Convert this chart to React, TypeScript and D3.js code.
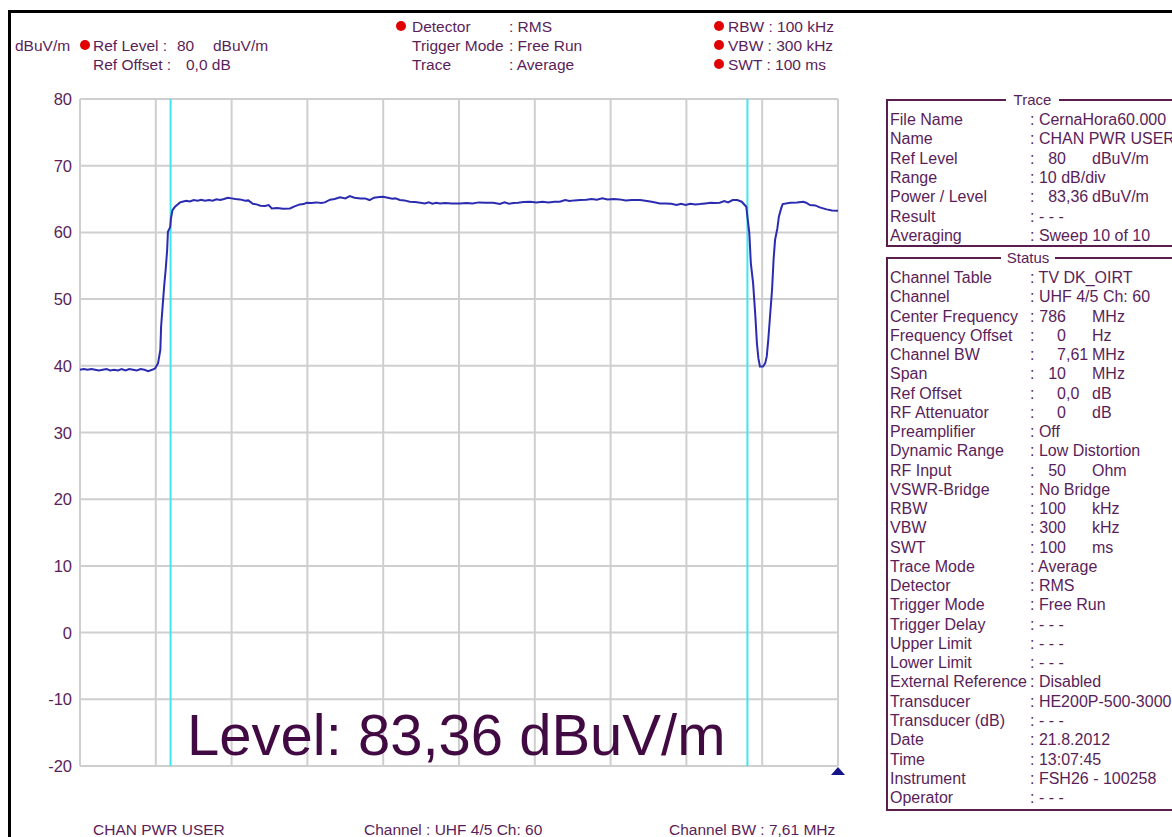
import React from 'react';
import * as d3 from 'd3';

// trace: frequency (MHz) / level (dBuV/m)
const traceFreq = [
  781.0, 781.05, 781.1, 781.15, 781.2, 781.25, 781.3, 781.35, 781.4, 781.45,
  781.5, 781.55, 781.6, 781.65, 781.7, 781.75, 781.8, 781.85, 781.9, 781.95,
  781.99, 782.03, 782.06, 782.07, 782.09, 782.11, 782.13, 782.15, 782.16, 782.19,
  782.2, 782.22, 782.25, 782.28, 782.32, 782.35, 782.4, 782.45, 782.5, 782.55,
  782.6, 782.65, 782.7, 782.75, 782.8, 782.85, 782.9, 782.95, 783.0, 783.05,
  783.11, 783.18, 783.22, 783.28, 783.33, 783.38, 783.44, 783.49, 783.53, 783.6,
  783.68, 783.77, 783.83, 783.9, 783.95, 783.99, 784.05, 784.12, 784.18, 784.23,
  784.3, 784.36, 784.43, 784.5, 784.56, 784.62, 784.7, 784.76, 784.82, 784.88,
  784.95, 785.0, 785.06, 785.12, 785.16, 785.22, 785.28, 785.35, 785.42, 785.49,
  785.55, 785.6, 785.65, 785.7, 785.75, 785.82, 785.9, 786.01, 786.1, 786.18,
  786.26, 786.35, 786.45, 786.54, 786.6, 786.66, 786.72, 786.78, 786.85, 786.94,
  787.02, 787.1, 787.18, 787.26, 787.33, 787.4, 787.46, 787.52, 787.6, 787.68,
  787.75, 787.82, 787.89, 787.96, 788.04, 788.12, 788.2, 788.28, 788.39, 788.48,
  788.56, 788.65, 788.72, 788.8, 788.87, 788.93, 788.99, 789.05, 789.12, 789.18,
  789.25, 789.32, 789.38, 789.44, 789.5, 789.55, 789.61, 789.67, 789.73, 789.79,
  789.81, 789.83, 789.85, 789.88, 789.91, 789.93, 789.95, 789.97, 790.01, 790.04,
  790.06, 790.08, 790.1, 790.13, 790.15, 790.17, 790.2, 790.22, 790.25, 790.27,
  790.37, 790.46, 790.54, 790.58, 790.63, 790.7, 790.76, 790.85, 790.92, 791.0,
];
const traceLevel = [
  39.4, 39.5, 39.4, 39.5, 39.4, 39.3, 39.4, 39.5, 39.3, 39.4,
  39.3, 39.5, 39.3, 39.5, 39.4, 39.3, 39.5, 39.4, 39.2, 39.4,
  39.6, 40.4, 42.4, 45.9, 48.9, 51.9, 54.4, 57.4, 60.1, 60.8,
  62.1, 63.35, 63.8, 64.1, 64.5, 64.6, 64.75, 64.65, 64.85, 64.75,
  64.9, 64.75, 64.85, 64.75, 64.95, 64.85, 65.0, 65.2, 65.1, 65.0,
  64.95, 64.75, 64.8, 64.3, 64.2, 64.0, 63.95, 64.1, 63.6, 63.65,
  63.55, 63.6, 63.9, 64.2, 64.25, 64.45, 64.4, 64.5, 64.4, 64.5,
  64.9, 65.0, 65.25, 65.1, 65.45, 65.2, 65.1, 65.1, 64.85, 65.2,
  65.3, 65.35, 65.2, 65.05, 65.1, 64.85, 64.8, 64.6, 64.55, 64.45,
  64.35, 64.5, 64.3, 64.45, 64.35, 64.4, 64.35, 64.35, 64.4, 64.35,
  64.5, 64.45, 64.45, 64.25, 64.5, 64.3, 64.4, 64.45, 64.55, 64.6,
  64.5, 64.6, 64.5, 64.6, 64.6, 64.85, 64.7, 64.8, 64.85, 64.9,
  65.0, 64.9, 65.1, 64.95, 65.0, 64.95, 64.8, 64.85, 64.85, 64.7,
  64.55, 64.35, 64.35, 64.3, 64.1, 64.3, 64.1, 64.3, 64.2, 64.25,
  64.35, 64.45, 64.4, 64.45, 64.7, 64.5, 64.85, 64.85, 64.6, 63.85,
  61.85, 59.9, 55.4, 52.4, 47.4, 43.4, 41.1, 39.9, 39.9, 40.4,
  41.4, 43.9, 46.9, 51.4, 55.9, 58.9, 60.6, 62.35, 63.6, 64.25,
  64.45, 64.5, 64.6, 64.45, 64.1, 64.05, 63.75, 63.45, 63.3, 63.25,
];

const centerFreq = 786;
const spanMHz = 10;
const channelBw = 7.61;
const refLevel = 80;
const rangeDb = 100;
const yTicks = [80, 70, 60, 50, 40, 30, 20, 10, 0, -10, -20];

const traceLabels = ['File Name', 'Name', 'Ref Level', 'Range', 'Power / Level', 'Result', 'Averaging'];
const traceValues = ['CernaHora60.000', 'CHAN PWR USER', '80', '10 dB/div', '83,36', '- - -', 'Sweep 10 of 10'];
const traceUnits = ['', '', 'dBuV/m', '', 'dBuV/m', '', ''];

const statusLabels = [
  'Channel Table', 'Channel', 'Center Frequency', 'Frequency Offset', 'Channel BW', 'Span',
  'Ref Offset', 'RF Attenuator', 'Preamplifier', 'Dynamic Range', 'RF Input', 'VSWR-Bridge',
  'RBW', 'VBW', 'SWT', 'Trace Mode', 'Detector', 'Trigger Mode', 'Trigger Delay', 'Upper Limit',
  'Lower Limit', 'External Reference', 'Transducer', 'Transducer (dB)', 'Date', 'Time',
  'Instrument', 'Operator',
];
const statusValues = [
  'TV DK_OIRT', 'UHF 4/5 Ch: 60', '786', '0', '7,61', '10',
  '0,0', '0', 'Off', 'Low Distortion', '50', 'No Bridge',
  '100', '300', '100', 'Average', 'RMS', 'Free Run', '- - -', '- - -',
  '- - -', 'Disabled', 'HE200P-500-3000', '- - -', '21.8.2012', '13:07:45',
  'FSH26 - 100258', '- - -',
];
const statusUnits = [
  '', '', 'MHz', 'Hz', 'MHz', 'MHz',
  'dB', 'dB', '', '', 'Ohm', '',
  'kHz', 'kHz', 'ms', '', '', '', '', '',
  '', '', '', '', '', '',
  '', '',
];

const TXT = '#5a1e5a';
const FONT = '"Liberation Sans", Arial, sans-serif';

const W = 1172;
const H = 837;
const plot = { left: 80, right: 838, top: 99, bottom: 766 };

function PanelRows({ labels, values, units, y0, step }) {
  return (
    <g fontSize={16} fill={TXT}>
      {labels.map((lab, i) => {
        const y = y0 + i * step;
        const v = values[i];
        if (units[i]) {
          const parts = v.split(',');
          return (
            <g key={i}>
              <text x={890} y={y}>{lab}</text>
              <text x={1030} y={y}>:</text>
              <text x={1066} y={y} textAnchor="end">{parts[0]}</text>
              {parts[1] && <text x={1066} y={y}>{',' + parts[1]}</text>}
              <text x={1092} y={y}>{units[i]}</text>
            </g>
          );
        }
        return (
          <g key={i}>
            <text x={890} y={y}>{lab}</text>
            <text x={1030} y={y} style={{ whiteSpace: 'pre' }}>{': ' + v}</text>
          </g>
        );
      })}
    </g>
  );
}

function PanelBox({ title, x, y, h, gapX0, gapX1 }) {
  return (
    <g>
      <path
        d={`M${gapX0},${y} H${x} V${y + h} H${W + 10} M${gapX1},${y} H${W + 10}`}
        fill="none"
        stroke="#5a1e4e"
        strokeWidth={2}
      />
      <text x={(gapX0 + gapX1) / 2} y={y + 5} textAnchor="middle" fontSize={15} fill={TXT}>
        {title}
      </text>
    </g>
  );
}

export default function App() {
  const x = d3
    .scaleLinear()
    .domain([centerFreq - spanMHz / 2, centerFreq + spanMHz / 2])
    .range([plot.left, plot.right]);
  const y = d3
    .scaleLinear()
    .domain([refLevel - rangeDb, refLevel])
    .range([plot.bottom, plot.top]);

  const pts = traceFreq.map((f, i) => [f, traceLevel[i]]);
  const line = d3
    .line()
    .x((d) => x(d[0]))
    .y((d) => y(d[1]));

  const xGrid = d3.range(centerFreq - spanMHz / 2, centerFreq + spanMHz / 2 + 0.001, 1);
  const bwLines = [centerFreq - channelBw / 2, centerFreq + channelBw / 2];

  return (
    <svg
      width={W}
      height={H}
      style={{ position: 'absolute', left: 0, top: 0, background: '#fff' }}
      fontFamily={FONT}
    >
      <rect x={0} y={0} width={W} height={H} fill="#fff" />
      <rect x={9.5} y={11.5} width={W + 20} height={H + 20} fill="none" stroke="#000" strokeWidth={3} />

      {/* header */}
      <g fontSize={15.5} fill={TXT} style={{ whiteSpace: 'pre' }}>
        <text x={15} y={51}>dBuV/m</text>
        <circle cx={85} cy={45} r={5} fill="#e00000" />
        <text x={93} y={51}>Ref Level :</text>
        <text x={177} y={51}>80</text>
        <text x={213} y={51}>dBuV/m</text>
        <text x={93} y={70}>Ref Offset :</text>
        <text x={186} y={70}>0,0 dB</text>

        <circle cx={401} cy={26} r={5} fill="#e00000" />
        <text x={412} y={32}>Detector</text>
        <text x={509} y={32}>: RMS</text>
        <text x={412} y={51}>Trigger Mode</text>
        <text x={509} y={51}>: Free Run</text>
        <text x={412} y={70}>Trace</text>
        <text x={509} y={70}>: Average</text>

        <circle cx={719} cy={26} r={5} fill="#e00000" />
        <circle cx={719} cy={45} r={5} fill="#e00000" />
        <circle cx={719} cy={64} r={5} fill="#e00000" />
        <text x={728} y={32}>RBW : 100 kHz</text>
        <text x={728} y={51}>VBW : 300 kHz</text>
        <text x={728} y={70}>SWT : 100 ms</text>
      </g>

      {/* grid */}
      <g stroke="#cfcfcf" strokeWidth={2}>
        {xGrid.map((f, i) => (
          <line key={'v' + i} x1={x(f)} x2={x(f)} y1={plot.top} y2={plot.bottom} />
        ))}
        {yTicks.map((t) => (
          <line key={'h' + t} x1={plot.left} x2={plot.right} y1={y(t)} y2={y(t)} />
        ))}
      </g>
      <g fontSize={16.5} fill={TXT} textAnchor="end">
        {yTicks.map((t) => (
          <text key={t} x={72} y={y(t) + 6}>{t}</text>
        ))}
      </g>

      {/* channel bandwidth */}
      {bwLines.map((f, i) => (
        <line key={i} x1={x(f)} x2={x(f)} y1={plot.top} y2={plot.bottom} stroke="#3ee6f2" strokeWidth={2} />
      ))}

      <path d={line(pts)} fill="none" stroke="#2b2bb0" strokeWidth={2} />

      <path
        d={`M${plot.right},${plot.bottom + 1} l7,8 h-14 z`}
        fill="#14148c"
      />

      <text x={187} y={755} fontSize={58} fill="#420a42">Level: 83,36 dBuV/m</text>

      {/* footer */}
      <g fontSize={15.5} fill={TXT}>
        <text x={93} y={835}>CHAN PWR USER</text>
        <text x={364} y={835}>Channel : UHF 4/5 Ch: 60</text>
        <text x={669} y={835}>Channel BW : 7,61 MHz</text>
      </g>

      {/* side panels */}
      <PanelBox title="Trace" x={887} y={100} h={146} gapX0={1006} gapX1={1059} />
      <PanelRows labels={traceLabels} values={traceValues} units={traceUnits} y0={125} step={19.3} />
      <PanelBox title="Status" x={887} y={258} h={552} gapX0={1001} gapX1={1055} />
      <PanelRows labels={statusLabels} values={statusValues} units={statusUnits} y0={283} step={19.26} />
    </svg>
  );
}
